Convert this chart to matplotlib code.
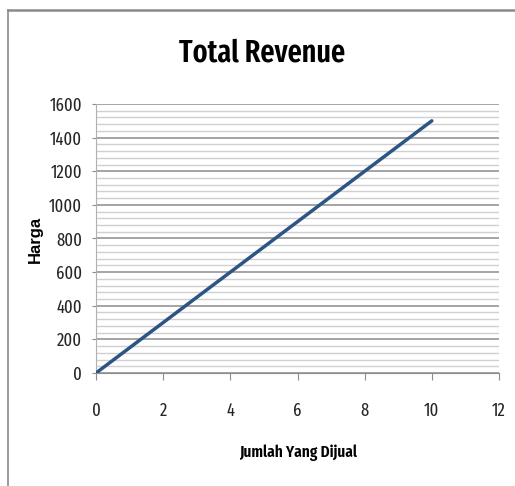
import matplotlib
matplotlib.use('Agg')
import matplotlib.pyplot as plt
from matplotlib.lines import Line2D
import numpy as np

# Data penjualan
jumlah = [0, 10]
harga = [0, 1500]

x_ticks = [0, 2, 4, 6, 8, 10, 12]
y_ticks = [0, 200, 400, 600, 800, 1000, 1200, 1400, 1600]

cond = ['Fira Sans Extra Condensed', 'Roboto Condensed', 'DejaVu Sans']

fig = plt.figure(figsize=(5.15, 4.86), dpi=100)
W, H = 515, 486

# Bingkai grafik (garis atas dan kiri)
fig.add_artist(Line2D([8 / W, 1], [1 - 10 / H, 1 - 10 / H], color='#8a8a8a', lw=1.8, transform=fig.transFigure))
fig.add_artist(Line2D([8 / W, 8 / W], [0, 1 - 10 / H], color='#8a8a8a', lw=1.2, transform=fig.transFigure))

ax = fig.add_axes([96 / W, (H - 373) / H, (499 - 96) / W, (373 - 104) / H])

# Grid mayor tiap 200, minor tiap 40
for y in np.arange(0, 1601, 40):
    if y % 200 == 0:
        ax.axhline(y, color='#8c8c8c', lw=1.1, zorder=1)
    else:
        ax.axhline(y, color='#d0d0d0', lw=1.0, zorder=1)

ax.plot(jumlah, harga, color='#2c5585', lw=2.5, zorder=3, solid_capstyle='round')

ax.set_xlim(0, 12)
ax.set_ylim(0, 1600)
ax.set_xticks(x_ticks)
ax.set_yticks(y_ticks)

for s in ['top', 'right']:
    ax.spines[s].set_visible(False)
ax.spines['left'].set_color('#b0b0b0')
ax.spines['bottom'].set_color('#8c8c8c')

ax.tick_params(axis='y', length=3, color='#8c8c8c', pad=7, labelsize=13)
ax.tick_params(axis='x', length=5, color='#8c8c8c', pad=16, labelsize=13)
for lbl in ax.get_xticklabels() + ax.get_yticklabels():
    lbl.set_family(cond)
    lbl.set_color('#262626')

fig.text(262 / W, 1 - 53 / H, 'Total Revenue', ha='center', va='center',
         fontsize=22, fontweight='semibold', family=cond)
fig.text(298 / W, 1 - 453 / H, 'Jumlah Yang Dijual', ha='center', va='center',
         fontsize=12, fontweight='semibold', family=cond)
fig.text(35 / W, 1 - 239 / H, 'Harga', ha='center', va='center', rotation=90,
         fontsize=12, fontweight='bold', family=['Liberation Sans', 'DejaVu Sans'])

plt.savefig('out.png', dpi=100)
